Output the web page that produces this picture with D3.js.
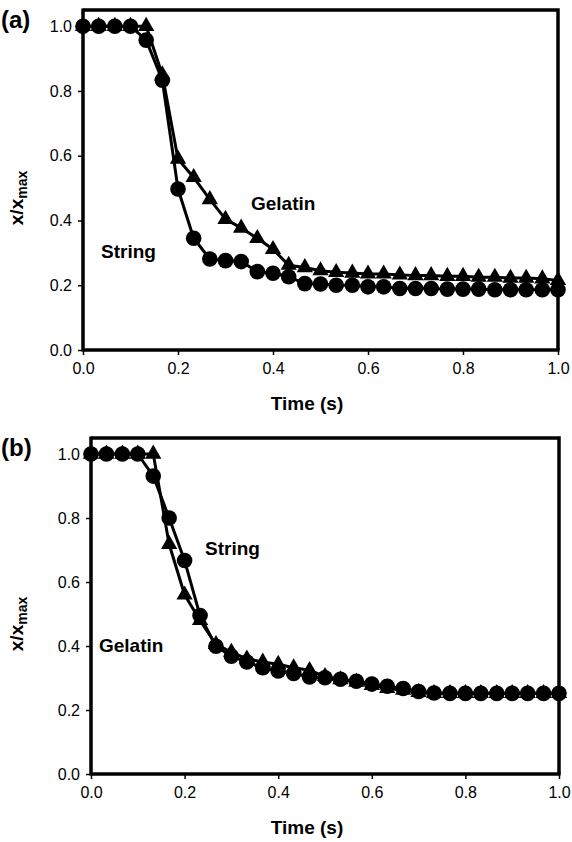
<!DOCTYPE html>
<html>
<head>
<meta charset="utf-8">
<script src="https://cdn.jsdelivr.net/npm/d3@7"></script>
<style>
  body { margin: 0; background: #fff; }
  svg text { font-family: "Liberation Sans", Arial, sans-serif; fill: #000; }
</style>
</head>
<body>
<svg id="chart"></svg>
<script>
// --------------------
// Data (30 frames per second)
// --------------------
const times = [0, 0.033, 0.067, 0.1, 0.133, 0.167, 0.2, 0.233, 0.267, 0.3,
  0.333, 0.367, 0.4, 0.433, 0.467, 0.5, 0.533, 0.567, 0.6, 0.633,
  0.667, 0.7, 0.733, 0.767, 0.8, 0.833, 0.867, 0.9, 0.933, 0.967, 1.0];

const stringA = [1.0, 1.0, 1.0, 1.0, 0.957, 0.833, 0.497, 0.345, 0.281, 0.276,
  0.273, 0.242, 0.237, 0.226, 0.205, 0.204, 0.2, 0.2, 0.195, 0.195,
  0.19, 0.19, 0.19, 0.188, 0.188, 0.188, 0.186, 0.186, 0.186, 0.186, 0.186];
const gelatinA = [1.0, 1.0, 1.0, 1.0, 1.0, 0.85, 0.59, 0.533, 0.465, 0.404,
  0.377, 0.345, 0.311, 0.262, 0.255, 0.245, 0.24, 0.238, 0.235, 0.235,
  0.232, 0.23, 0.23, 0.228, 0.228, 0.225, 0.225, 0.222, 0.222, 0.22, 0.215];

const stringB = [1.0, 1.0, 1.0, 1.0, 0.931, 0.8, 0.667, 0.495, 0.399, 0.368,
  0.35, 0.332, 0.322, 0.314, 0.303, 0.301, 0.296, 0.29, 0.281, 0.274,
  0.267, 0.258, 0.253, 0.252, 0.252, 0.252, 0.252, 0.252, 0.252, 0.252, 0.252];
const gelatinB = [1.0, 1.0, 1.0, 1.0, 1.0, 0.718, 0.56, 0.48, 0.405, 0.381,
  0.36, 0.35, 0.343, 0.332, 0.324, 0.305, 0.295, 0.287, 0.277, 0.268,
  0.262, 0.255, 0.252, 0.252, 0.252, 0.252, 0.252, 0.252, 0.252, 0.252, 0.252];

const xTicks = [0, 0.2, 0.4, 0.6, 0.8, 1.0];
const yTicks = [0, 0.2, 0.4, 0.6, 0.8, 1.0];

// --------------------
// Basic setup
// --------------------
const width = 572;
const height = 842;

const svg = d3.select("#chart")
  .attr("width", width)
  .attr("height", height);

const panels = [
  { tag: "(a)", string: stringA, gelatin: gelatinA,
    box: { left: 83, right: 558, top: 10, bottom: 350 },
    labels: [ { text: "Gelatin", x: 251, y: 210 }, { text: "String", x: 101, y: 258 } ] },
  { tag: "(b)", string: stringB, gelatin: gelatinB,
    box: { left: 91, right: 559, top: 438, bottom: 774 },
    labels: [ { text: "String", x: 205, y: 555 }, { text: "Gelatin", x: 99, y: 652 } ] }
];

panels.forEach(p => {
  const b = p.box;
  const x = d3.scaleLinear().domain([0, 1]).range([b.left, b.right]);
  const y = d3.scaleLinear().domain([0, 1.05]).range([b.bottom, b.top]);
  const g = svg.append("g");

  // frame (top and right)
  g.append("path")
    .attr("d", `M${b.left},${b.top}H${b.right}V${b.bottom}`)
    .attr("fill", "none")
    .attr("stroke", "#000")
    .attr("stroke-width", 3.5);

  // axes
  const xAxis = g.append("g")
    .attr("transform", `translate(0,${b.bottom})`)
    .call(d3.axisBottom(x).tickValues(xTicks).tickFormat(d3.format(".1f")).tickSize(5).tickPadding(8));
  const yAxis = g.append("g")
    .attr("transform", `translate(${b.left},0)`)
    .call(d3.axisLeft(y).tickValues(yTicks).tickFormat(d3.format(".1f")).tickSize(5).tickPadding(6));

  [xAxis, yAxis].forEach(a => {
    a.select(".domain").remove();
    a.selectAll(".tick line").attr("stroke", "#000").attr("stroke-width", 1.5);
    a.selectAll(".tick text").style("font-size", "16px");
  });

  g.append("line")
    .attr("x1", b.left).attr("x2", b.right + 1.5)
    .attr("y1", b.bottom).attr("y2", b.bottom)
    .attr("stroke", "#000").attr("stroke-width", 3.5);
  g.append("line")
    .attr("x1", b.left).attr("x2", b.left)
    .attr("y1", b.top - 1.5).attr("y2", b.bottom + 1.5)
    .attr("stroke", "#000").attr("stroke-width", 3.5);

  // series
  const line = d3.line().x((d, i) => x(times[i])).y(d => y(d));

  g.append("path").datum(p.gelatin)
    .attr("d", line).attr("fill", "none")
    .attr("stroke", "#000").attr("stroke-width", 3).attr("stroke-linejoin", "round");
  g.append("path").datum(p.string)
    .attr("d", line).attr("fill", "none")
    .attr("stroke", "#000").attr("stroke-width", 3).attr("stroke-linejoin", "round");

  const tri = d3.symbol().type(d3.symbolTriangle).size(115);
  g.selectAll(".tri").data(p.gelatin).join("path")
    .attr("class", "tri")
    .attr("d", tri)
    .attr("transform", (d, i) => `translate(${x(times[i])},${y(d)})`)
    .attr("fill", "#000");

  g.selectAll(".dot").data(p.string).join("circle")
    .attr("class", "dot")
    .attr("cx", (d, i) => x(times[i]))
    .attr("cy", d => y(d))
    .attr("r", 7.8)
    .attr("fill", "#000");

  // annotations
  p.labels.forEach(l => {
    g.append("text")
      .attr("x", l.x).attr("y", l.y)
      .style("font-size", "19px").style("font-weight", "bold")
      .text(l.text);
  });

  // axis titles
  g.append("text")
    .attr("x", 307).attr("y", b.bottom + 60)
    .attr("text-anchor", "middle")
    .style("font-size", "19px").style("font-weight", "bold")
    .text("Time (s)");

  const yt = g.append("text")
    .attr("transform", `translate(23,${(b.top + b.bottom) / 2 + 18}) rotate(-90)`)
    .attr("text-anchor", "middle")
    .style("font-size", "19px").style("font-weight", "bold");
  yt.append("tspan").text("x/x");
  yt.append("tspan").attr("dy", 4).style("font-size", "14px").text("max");

  // panel tag
  g.append("text")
    .attr("x", 1).attr("y", b.top + 18)
    .style("font-size", "24px").style("font-weight", "bold")
    .text(p.tag);
});
</script>
</body>
</html>
